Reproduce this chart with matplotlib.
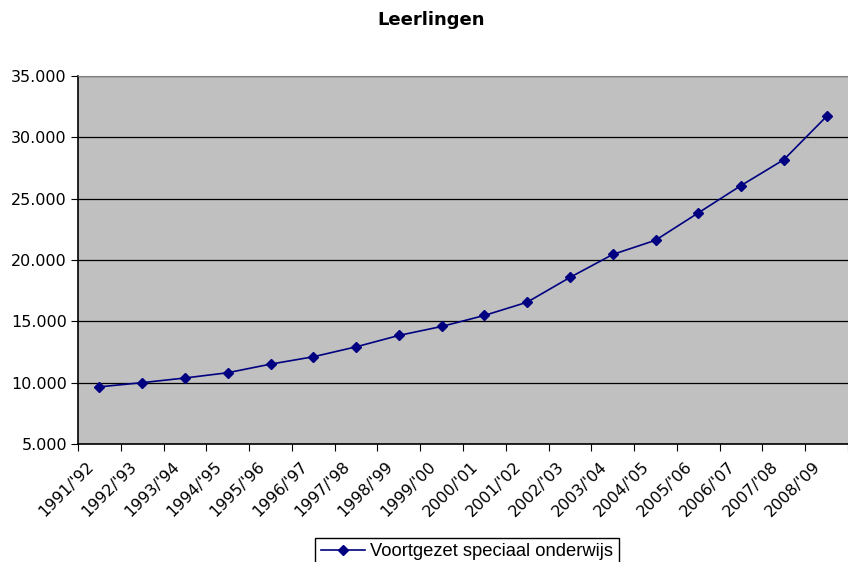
import matplotlib
matplotlib.use('Agg')
import matplotlib.pyplot as plt
from matplotlib.ticker import FuncFormatter
from matplotlib.transforms import ScaledTranslation
import numpy as np

years = ["1991/'92", "1992/'93", "1993/'94", "1994/'95", "1995/'96", "1996/'97",
         "1997/'98", "1998/'99", "1999/'00", "2000/'01", "2001/'02", "2002/'03",
         "2003/'04", "2004/'05", "2005/'06", "2006/'07", "2007/'08", "2008/'09"]
leerlingen = [9660, 10000, 10380, 10810, 11510, 12110, 12920, 13850, 14580,
              15480, 16560, 18580, 20450, 21610, 23840, 26070, 28180, 31710]

fig = plt.figure(figsize=(8.48, 5.62), dpi=100)
ax = fig.add_axes([78/848, 1 - 444/562, 770/848, 368/562])
ax.set_facecolor('#c0c0c0')

x = np.arange(len(years))
line, = ax.plot(x, leerlingen, color='#000080', lw=1.2, marker='D', ms=5.5,
                label='Voortgezet speciaal onderwijs')

ax.set_xlim(-0.5, len(years) - 0.5)
ax.set_ylim(5000, 35000)
ax.set_yticks(range(5000, 35001, 5000))
ax.yaxis.set_major_formatter(FuncFormatter(lambda v, p: '{:,.0f}'.format(v).replace(',', '.')))
ax.grid(axis='y', color='black', lw=0.9)
ax.set_axisbelow(True)

# ticks sit between the categories, labels are placed per category
ax.set_xticks(np.arange(-0.5, len(years), 1))
ax.set_xticklabels([])
ax.tick_params(axis='x', length=5, direction='out', color='black')
ax.tick_params(axis='y', length=5, direction='out', labelsize=11.5, pad=3)

shift = ScaledTranslation(-13.5/100, -15/100, fig.dpi_scale_trans)
for xi, lab in zip(x, years):
    ax.text(xi, 0, lab, transform=ax.get_xaxis_transform() + shift,
            rotation=45, ha='right', va='top', rotation_mode='anchor',
            fontsize=11.5, clip_on=False)

for s in ['left', 'bottom']:
    ax.spines[s].set_color('black')
    ax.spines[s].set_linewidth(1.2)
ax.spines['top'].set_color('#808080')
ax.spines['right'].set_visible(False)

fig.text(431/848, 1 - 20/562, 'Leerlingen', ha='center', va='center',
         fontsize=13, fontweight='bold')

fig.legend(handles=[line], loc='center', bbox_to_anchor=(467/848, 1 - 552/562),
           fancybox=False, edgecolor='black', framealpha=1,
           prop={'family': ['Liberation Sans', 'DejaVu Sans'], 'size': 13.2},
           handlelength=2.4, borderpad=0.3, handletextpad=0.3, borderaxespad=0)

fig.savefig('out.png', dpi=100)
